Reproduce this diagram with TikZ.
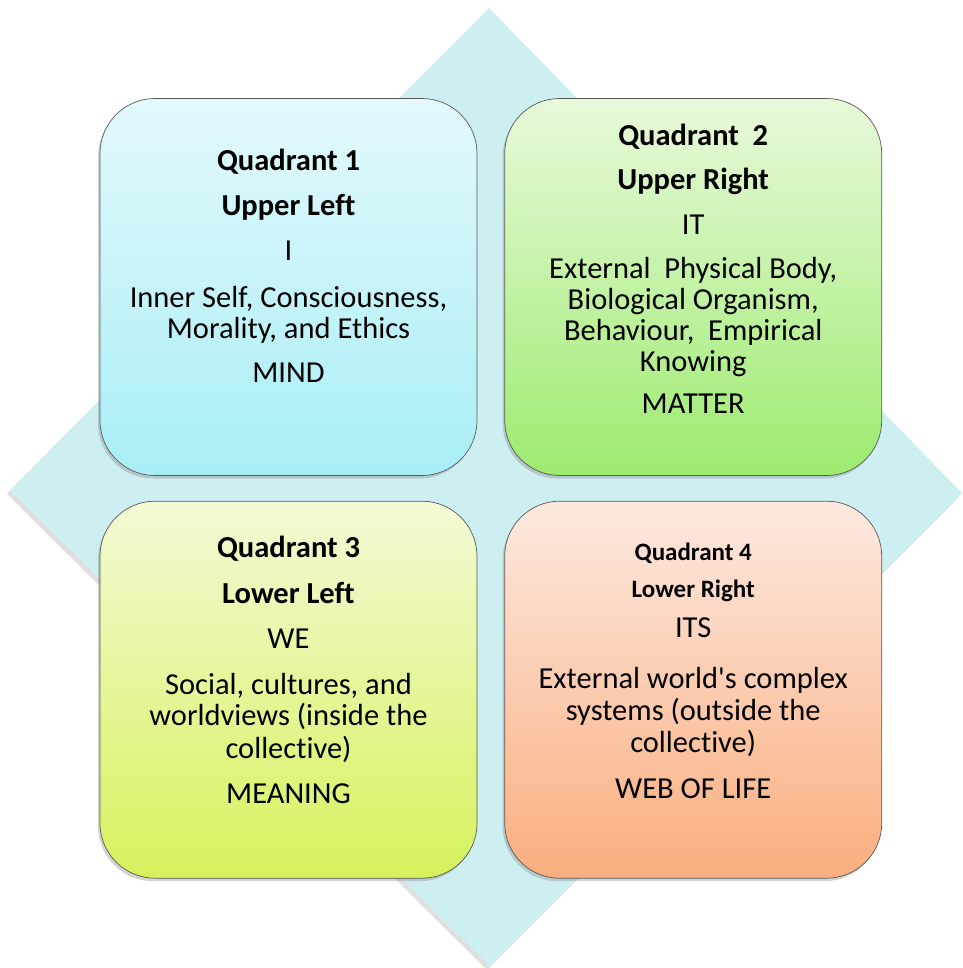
\documentclass[tikz,border=0pt]{standalone}
\usepackage{fontspec}
\setmainfont{Carlito}[Ligatures={TeXOff,CommonOff}]
\usepackage{tikz}
\usetikzlibrary{positioning,shadows}

\definecolor{diamondfill}{HTML}{CDEFF1}
\definecolor{qonetop}{HTML}{E3F9FC}
\definecolor{qonebot}{HTML}{A8EEF6}
\definecolor{qtwotop}{HTML}{E8F9DA}
\definecolor{qtwobot}{HTML}{9DEB70}
\definecolor{qthreetop}{HTML}{F3FAD6}
\definecolor{qthreebot}{HTML}{D5F25C}
\definecolor{qfourtop}{HTML}{FDE9E0}
\definecolor{qfourbot}{HTML}{F9AE7E}

\tikzset{
  quadbox/.style={rectangle, rounded corners=55pt, minimum width=377pt, minimum height=377pt,
    draw=black!65, line width=0.7pt,
    drop shadow={shadow xshift=-2pt, shadow yshift=-3pt, opacity=0.35}},
  quadtext/.style={align=center, inner sep=0pt, anchor=north, font=\fontsize{30.5}{31}\selectfont},
}

\begin{document}
\begin{tikzpicture}[x=1pt, y=-1pt]
        \useasboundingbox (0,0) rectangle (962,968);

        % Background diamond
        \fill[diamondfill, drop shadow={shadow xshift=-3pt, shadow yshift=-4pt, opacity=0.25}]
            (489,8) -- (962,493) -- (490,966) -- (10,490) -- cycle;

        % Quadrant boxes
        \node[quadbox, top color=qonetop, bottom color=qonebot] (q1) at (288.5,287) {};
        \node[quadbox, top color=qtwotop, bottom color=qtwobot, right=27pt of q1] (q2) {};
        \node[quadbox, top color=qthreetop, bottom color=qthreebot, below=25pt of q1] (q3) {};
        \node[quadbox, top color=qfourtop, bottom color=qfourbot, right=27pt of q3] (q4) {};

        % Quadrant texts
        \node[quadtext, below=51pt of q1.north] (t1) {\textbf{Quadrant 1}\\[14pt]
            \textbf{Upper Left}\\[14pt]
            I\\[16pt]
            Inner Self, Consciousness,\\
            Morality, and Ethics\\[13pt]
            MIND};
        \node[quadtext, below=26pt of q2.north] (t2) {\textbf{Quadrant\ \ 2}\\[13pt]
            \textbf{Upper Right}\\[14pt]
            IT\\[13pt]
            External\ \ Physical Body,\\
            Biological Organism,\\
            Behaviour,\ \ Empirical\\
            Knowing\\[11pt]
            MATTER};
        \node[quadtext, below=35pt of q3.north] (t3) {\textbf{Quadrant 3}\\[15pt]
            \textbf{Lower Left}\\[14pt]
            WE\\[15pt]
            Social, cultures, and\\
            worldviews (inside the\\[2pt]
            collective)\\[14pt]
            MEANING};
        \node[quadtext, below=42pt of q4.north] (t4) {{\fontsize{25}{28}\selectfont\textbf{Quadrant 4}}\\[6pt]
            {\fontsize{25}{28}\selectfont\textbf{Lower Right}}\\[9pt]
            ITS\\[20pt]
            External world's complex\\[1pt]
            systems (outside the\\[1pt]
            collective)\\[15pt]
            WEB OF LIFE};
\end{tikzpicture}
\end{document}
